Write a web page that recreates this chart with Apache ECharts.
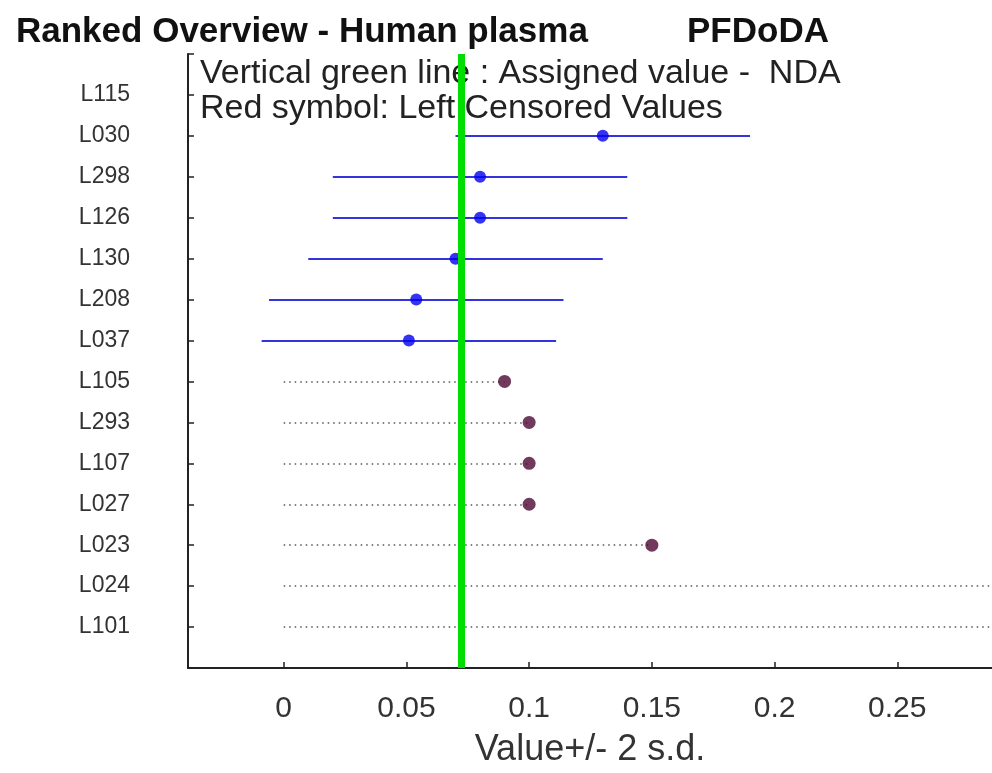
<!DOCTYPE html>
<html>
<head>
<meta charset="utf-8">
<script src="https://cdn.jsdelivr.net/npm/echarts@6/dist/echarts.min.js"></script>
<style>
html,body{margin:0;padding:0;background:#fff;}
#chart{width:992px;height:773px;}
</style>
</head>
<body>
<div id="chart"></div>
<script>
// Labs listed top to bottom as in the picture
var labs = ['L115','L030','L298','L126','L130','L208','L037','L105','L293','L107','L027','L023','L024','L101'];
// Reported values (null = no result)
var values = [null,0.13,0.08,0.08,0.07,0.054,0.051,0.09,0.10,0.10,0.10,0.15,0.35,0.35];
// Lower / upper ends of value +/- 2 s.d. (only for quantified results)
var lowEnds  = [null,0.07,0.02,0.02,0.01,-0.006,-0.009,null,null,null,null,null,null,null];
var highEnds = [null,0.19,0.14,0.14,0.13,0.114,0.111,null,null,null,null,null,null,null];
// Left censored results (reported as "< value")
var censored = [false,false,false,false,false,false,false,true,true,true,true,true,true,true];
var assignedValue = 0.0725;
var xTicks = [0,0.05,0.1,0.15,0.2,0.25];

var n = labs.length;
function yPos(i){ return n - i; }

var errLines = [], dotLines = [], bluePts = [], redPts = [];
labs.forEach(function(l,i){
  var y = yPos(i);
  if (values[i] == null) return;
  if (censored[i]) {
    dotLines.push({coords:[[0,y],[values[i],y]]});
    redPts.push([values[i], y]);
  } else {
    errLines.push({coords:[[lowEnds[i],y],[highEnds[i],y]]});
    bluePts.push([values[i], y]);
  }
});

var chart = echarts.init(document.getElementById('chart'), null, {renderer:'canvas'});
var font = 'Liberation Sans, Arial, Helvetica, sans-serif';
chart.setOption({
  backgroundColor:'#ffffff',
  animation:false,
  title:[
    {text:'Ranked Overview - Human plasma', left:11, top:10, textStyle:{fontFamily:font, fontSize:35, fontWeight:'bold', color:'#111'}},
    {text:'PFDoDA', left:682, top:10, textStyle:{fontFamily:font, fontSize:35, fontWeight:'bold', color:'#111'}},
    {text:'Vertical green line : Assigned value -  NDA', left:195, top:52, textStyle:{fontFamily:font, fontSize:34, fontWeight:'normal', color:'#222'}},
    {text:'Red symbol: Left Censored Values', left:195, top:87, textStyle:{fontFamily:font, fontSize:34, fontWeight:'normal', color:'#222'}}
  ],
  grid:{left:188, right:0, top:54, bottom:105, containLabel:false},
  xAxis:{
    type:'value', min:-0.039, max:0.2886,
    name:'Value+/- 2 s.d.', nameLocation:'middle', nameGap:64,
    nameTextStyle:{fontFamily:font, fontSize:36, color:'#333'},
    axisLine:{show:true, onZero:false, lineStyle:{color:'#222', width:2}},
    axisTick:{show:true, inside:true, length:6, customValues:xTicks, lineStyle:{color:'#222', width:1.5}},
    axisLabel:{customValues:xTicks, margin:26, fontFamily:font, fontSize:30, color:'#333',
      formatter:function(v){ return String(v); }},
    splitLine:{show:false}
  },
  yAxis:{
    type:'value', min:0, max:15, interval:1,
    axisLine:{show:true, onZero:false, lineStyle:{color:'#222', width:2}},
    axisTick:{show:true, inside:true, length:6, lineStyle:{color:'#222', width:1.5}},
    axisLabel:{margin:58, fontFamily:font, fontSize:23, color:'#333',
      formatter:function(v){ var i = n - v; return (i>=0 && i<n) ? labs[i] : ''; }},
    splitLine:{show:false}
  },
  series:[
    {type:'lines', coordinateSystem:'cartesian2d', polyline:false, silent:true, z:2,
     lineStyle:{color:'#555555', width:1.5, type:[1.5,4], opacity:1}, data:dotLines},
    {type:'lines', coordinateSystem:'cartesian2d', polyline:false, silent:true, z:2,
     lineStyle:{color:'#3333e0', width:2, opacity:1}, data:errLines},
    {type:'scatter', symbol:'circle', symbolSize:12, z:3, itemStyle:{color:'#0000ee'}, data:bluePts},
    {type:'scatter', symbol:'circle', symbolSize:13, z:3, itemStyle:{color:'#4d0833'}, data:redPts},
    {type:'lines', coordinateSystem:'cartesian2d', polyline:false, silent:true, z:10,
     lineStyle:{color:'#00dd00', width:7, opacity:1},
     data:[{coords:[[assignedValue,0],[assignedValue,15]]}]}
  ]
});
</script>
</body>
</html>
